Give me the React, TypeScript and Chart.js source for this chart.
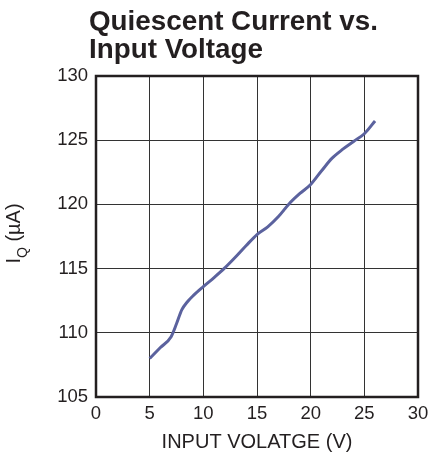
import React, { useEffect, useRef } from "react";
import { Chart, registerables } from "chart.js";

Chart.register(...registerables);

const titleLines = ["Quiescent Current vs.", "Input Voltage"];
const xAxisTitle = "INPUT VOLATGE (V)";
const yAxisMain = "I";
const yAxisSub = "Q";
const yAxisRest = " (\u00B5A)";

const inputVoltage = [5, 6, 7, 7.5, 8, 8.5, 9, 10, 11, 12, 13, 14, 15, 16, 17, 18, 19, 20, 21, 22, 23, 24, 25, 26];
const quiescentCurrent = [
  108.0, 108.85, 109.7, 110.7, 111.8, 112.4, 112.85, 113.6, 114.3, 115.05, 115.9, 116.8, 117.65, 118.25,
  119.05, 120.05, 120.85, 121.55, 122.6, 123.6, 124.3, 124.9, 125.5, 126.5,
];

const xMin = 0;
const xMax = 30;
const xStep = 5;
const yMin = 105;
const yMax = 130;
const yStep = 5;

const FONT = '"Liberation Sans", Arial, Helvetica, sans-serif';
const INK = "#231f20";
const CANVAS_W = 433;
const CANVAS_H = 460;

const decorPlugin = {
  id: "decor",
  beforeDatasetsDraw(chart: any) {
    const { ctx, chartArea } = chart;
    ctx.save();
    ctx.strokeStyle = INK;
    ctx.lineWidth = 2.5;
    ctx.strokeRect(chartArea.left, chartArea.top, chartArea.right - chartArea.left, chartArea.bottom - chartArea.top);
    ctx.restore();
  },
  afterDraw(chart: any) {
    const { ctx, chartArea } = chart;
    ctx.save();
    // main title
    ctx.fillStyle = INK;
    ctx.font = `bold 27.8px ${FONT}`;
    ctx.textAlign = "left";
    ctx.textBaseline = "alphabetic";
    ctx.fillText(titleLines[0], chartArea.left - 7, 30);
    ctx.fillText(titleLines[1], chartArea.left - 7, 58);

    // y-axis title with subscript
    const mainFont = `20px ${FONT}`;
    const subFont = `14px ${FONT}`;
    ctx.font = mainFont;
    const wMain = ctx.measureText(yAxisMain).width;
    const wRest = ctx.measureText(yAxisRest).width;
    ctx.font = subFont;
    const wSub = ctx.measureText(yAxisSub).width;
    const total = wMain + wSub + wRest;
    const cy = (chartArea.top + chartArea.bottom) / 2 - 3;
    ctx.translate(20, cy);
    ctx.rotate(-Math.PI / 2);
    let x = -total / 2;
    ctx.font = mainFont;
    ctx.fillText(yAxisMain, x, 0);
    x += wMain;
    ctx.font = subFont;
    ctx.fillText(yAxisSub, x, 7);
    x += wSub;
    ctx.font = mainFont;
    ctx.fillText(yAxisRest, x, 0);
    ctx.restore();
  },
};

export default function App() {
  const canvasRef = useRef<HTMLCanvasElement | null>(null);

  useEffect(() => {
    if (!canvasRef.current) return;
    const data = inputVoltage.map((v, i) => ({ x: v, y: quiescentCurrent[i] }));
    const chart = new Chart(canvasRef.current, {
      type: "line",
      data: {
        datasets: [
          {
            data,
            borderColor: "#5b629e",
            borderWidth: 3,
            pointRadius: 0,
            cubicInterpolationMode: "monotone",
            fill: false,
          },
        ],
      },
      options: {
        animation: false,
        responsive: false,
        devicePixelRatio: 1,
        layout: { padding: { top: 76, right: 15, left: 0, bottom: 0 } },
        plugins: { legend: { display: false }, tooltip: { enabled: false }, title: { display: false } },
        scales: {
          x: {
            type: "linear",
            min: xMin,
            max: xMax,
            afterFit: (scale: any) => {
              scale.height = 63;
              scale.paddingLeft = 0;
              scale.paddingRight = 0;
            },
            ticks: {
              stepSize: xStep,
              padding: 6,
              color: INK,
              font: { family: FONT, size: 18.5 },
              maxRotation: 0,
            },
            grid: { color: "#333333", lineWidth: 1, drawTicks: false },
            border: { display: false },
            title: {
              display: true,
              text: xAxisTitle,
              color: INK,
              font: { family: FONT, size: 20, lineHeight: 1 },
              padding: { top: 0, bottom: 8 },
            },
          },
          y: {
            type: "linear",
            min: yMin,
            max: yMax,
            afterFit: (scale: any) => {
              scale.width = 96;
              scale.paddingTop = 0;
              scale.paddingBottom = 0;
            },
            ticks: {
              stepSize: yStep,
              padding: 8,
              color: INK,
              font: { family: FONT, size: 18.5 },
            },
            grid: { color: "#333333", lineWidth: 1, drawTicks: false },
            border: { display: false },
          },
        },
      },
      plugins: [decorPlugin],
    });
    return () => chart.destroy();
  }, []);

  return (
    <div style={{ position: "absolute", left: 0, top: 0, width: CANVAS_W, height: CANVAS_H, overflow: "hidden" }}>
      <canvas ref={canvasRef} width={CANVAS_W} height={CANVAS_H} style={{ display: "block" }} />
    </div>
  );
}
